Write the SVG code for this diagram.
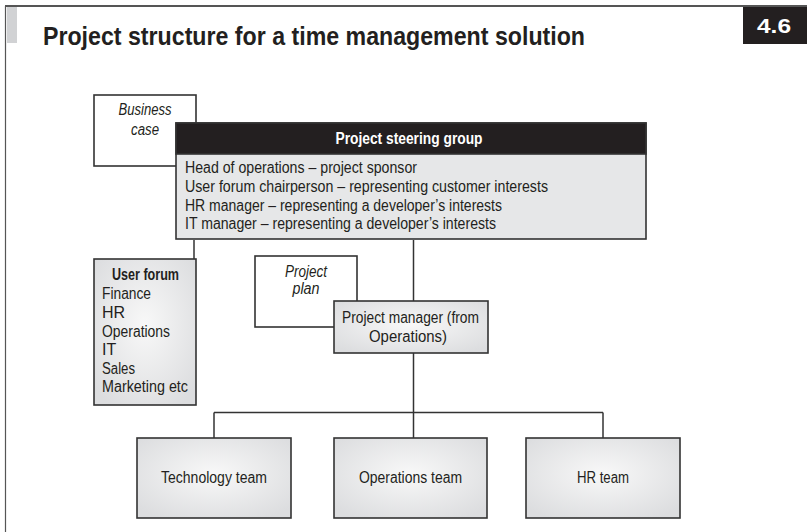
<svg xmlns="http://www.w3.org/2000/svg" width="807" height="532" viewBox="0 0 807 532">
<defs>
<radialGradient id="g" cx="50%" cy="45%" r="65%">
<stop offset="0" stop-color="#f8f8f8"/>
<stop offset="1" stop-color="#dcdddf"/>
</radialGradient>
<style>
text{font-family:"Liberation Sans",Arial,sans-serif;fill:#231f20}
.box{stroke:#333;stroke-width:1.6}
.w{fill:#fff}
.gr{fill:#e6e7e8}
.gd{fill:url(#g)}
.t{font-size:16px}
.i{font-size:16px;font-style:italic}
.b{font-size:16px;font-weight:bold}
.c{text-anchor:middle}
.conn line{stroke:#333;stroke-width:1.5}
</style>
</defs>
<rect width="807" height="532" fill="#fff"/>
<g id="frame">
<line x1="5" y1="6" x2="807" y2="6" stroke="#555" stroke-width="2"/>
<line x1="5.5" y1="6" x2="5.5" y2="532" stroke="#555" stroke-width="1.2"/>
<rect x="7" y="7" width="10" height="36" fill="#d1d2d4"/>
<text x="43" y="45" font-size="25" font-weight="bold" textLength="542" lengthAdjust="spacingAndGlyphs">Project structure for a time management solution</text>
<rect x="743" y="7" width="64" height="37" fill="#231f20"/>
<text x="774" y="33" font-size="20" font-weight="bold" text-anchor="middle" style="fill:#fff" textLength="34" lengthAdjust="spacingAndGlyphs">4.6</text>
</g>
<g class="conn" id="connectors">
<line x1="194" y1="240" x2="194" y2="259"/>
<line x1="413.5" y1="240" x2="413.5" y2="301"/>
<line x1="413.5" y1="353" x2="413.5" y2="438"/>
<line x1="214" y1="412.5" x2="603" y2="412.5"/>
<line x1="214" y1="412.5" x2="214" y2="438"/>
<line x1="603" y1="412.5" x2="603" y2="438"/>
</g>
<g id="business-case">
<rect class="box w" x="94" y="95" width="102" height="71"/>
<text class="i c" x="145" y="115" textLength="53" lengthAdjust="spacingAndGlyphs">Business</text>
<text class="i c" x="145" y="135" textLength="28" lengthAdjust="spacingAndGlyphs">case</text>
</g>
<g id="steering-group">
<rect class="box gr" x="176" y="123" width="470" height="116"/>
<rect x="176" y="123" width="470" height="31" fill="#231f20" stroke="#333" stroke-width="1.6"/>
<text class="b c" x="409" y="144" style="fill:#fff" textLength="147" lengthAdjust="spacingAndGlyphs">Project steering group</text>
<text class="t" x="185" y="173" textLength="232" lengthAdjust="spacingAndGlyphs">Head of operations – project sponsor</text>
<text class="t" x="185" y="192" textLength="363" lengthAdjust="spacingAndGlyphs">User forum chairperson – representing customer interests</text>
<text class="t" x="185" y="211" textLength="317" lengthAdjust="spacingAndGlyphs">HR manager – representing a developer’s interests</text>
<text class="t" x="185" y="229" textLength="311" lengthAdjust="spacingAndGlyphs">IT manager – representing a developer’s interests</text>
</g>
<g id="user-forum">
<rect class="box gd" x="94" y="259" width="102" height="146"/>
<text class="b c" x="145.5" y="280" textLength="67" lengthAdjust="spacingAndGlyphs">User forum</text>
<text class="t" x="102" y="299" textLength="49" lengthAdjust="spacingAndGlyphs">Finance</text>
<text class="t" x="102" y="318">HR</text>
<text class="t" x="102" y="337" textLength="68" lengthAdjust="spacingAndGlyphs">Operations</text>
<text class="t" x="102" y="355">IT</text>
<text class="t" x="102" y="374" textLength="33" lengthAdjust="spacingAndGlyphs">Sales</text>
<text class="t" x="102" y="392" textLength="86" lengthAdjust="spacingAndGlyphs">Marketing etc</text>
</g>
<g id="project-plan">
<rect class="box w" x="255" y="256" width="102" height="71"/>
<text class="i c" x="306" y="277" textLength="42" lengthAdjust="spacingAndGlyphs">Project</text>
<text class="i c" x="306" y="294" textLength="27" lengthAdjust="spacingAndGlyphs">plan</text>
</g>
<g id="project-manager">
<rect class="box gd" x="334" y="301" width="154" height="52"/>
<text class="t c" x="410.5" y="323" textLength="137" lengthAdjust="spacingAndGlyphs">Project manager (from</text>
<text class="t c" x="408" y="342" textLength="78" lengthAdjust="spacingAndGlyphs">Operations)</text>
</g>
<g id="technology-team">
<rect class="box gd" x="137" y="438" width="154" height="80"/>
<text class="t c" x="214" y="483" textLength="106" lengthAdjust="spacingAndGlyphs">Technology team</text>
</g>
<g id="operations-team">
<rect class="box gd" x="334" y="438" width="153" height="80"/>
<text class="t c" x="410.5" y="483" textLength="103" lengthAdjust="spacingAndGlyphs">Operations team</text>
</g>
<g id="hr-team">
<rect class="box gd" x="526" y="438" width="154" height="80"/>
<text class="t c" x="603" y="483" textLength="52" lengthAdjust="spacingAndGlyphs">HR team</text>
</g>
</svg>
